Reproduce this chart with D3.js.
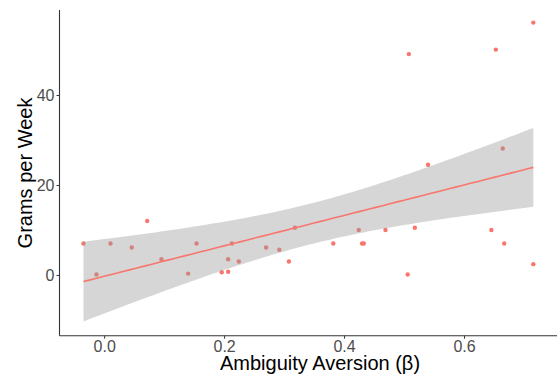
<!DOCTYPE html>
<html>
<head>
<meta charset="utf-8">
<script src="https://cdn.jsdelivr.net/npm/d3@7"></script>
<style>
  html, body { margin: 0; padding: 0; background: #fff; }
  svg { display: block; font-family: "Liberation Sans", Arial, sans-serif; }
</style>
</head>
<body>
<svg id="chart" width="557" height="379"></svg>
<script>
// Ambiguity aversion (beta) per participant
const aversion = [
  -0.0345, -0.0128, 0.0105, 0.046, 0.0717, 0.0955, 0.14, 0.154, 0.196, 0.2067,
  0.2067, 0.213, 0.2245, 0.27, 0.292, 0.308, 0.318, 0.382, 0.4245, 0.43,
  0.4328, 0.469, 0.506, 0.508, 0.518, 0.54, 0.6456, 0.653, 0.6645, 0.667,
  0.7155, 0.7155
];
// Grams consumed per week for the same participants
const grams = [
  7.0, 0.1, 7.0, 6.1, 12.0, 3.5, 0.3, 7.0, 0.6, 0.7,
  3.5, 7.0, 3.0, 6.1, 5.6, 3.0, 10.5, 7.0, 10.0, 7.0,
  7.0, 10.0, 0.1, 49.1, 10.5, 24.5, 10.0, 50.1, 28.1, 7.0,
  2.4, 56.1
];
const xTicks = [0.0, 0.2, 0.4, 0.6];
const yTicks = [0, 20, 40];
const xTitle = "Ambiguity Aversion (\u03b2)";
const yTitle = "Grams per Week";

const pointColor = "#F8766D";
const svg = d3.select("#chart");

const x = d3.scaleLinear().domain([-0.0745, 0.755]).range([59.5, 557]);
const y = d3.scaleLinear().domain([-13.5, 58.9]).range([335.7, 10]);

const data = aversion.map((a, i) => ({ a, g: grams[i] }));

// Ordinary least squares fit with a 95% confidence band
const n = data.length;
const mx = d3.mean(aversion), my = d3.mean(grams);
const sxx = d3.sum(aversion, v => (v - mx) ** 2);
const sxy = d3.sum(data, d => (d.a - mx) * (d.g - my));
const slope = sxy / sxx;
const intercept = my - slope * mx;
const rss = d3.sum(data, d => (d.g - intercept - slope * d.a) ** 2);
const sigma = Math.sqrt(rss / (n - 2));
const tCrit = 2.042; // t(0.975, df ~ 30)

const [xmin, xmax] = d3.extent(aversion);
const fit = d3.range(0, 81).map(i => {
  const xv = xmin + (xmax - xmin) * i / 80;
  const yv = intercept + slope * xv;
  const se = sigma * Math.sqrt(1 / n + (xv - mx) ** 2 / sxx);
  return { x: xv, y: yv, lo: yv - tCrit * se, hi: yv + tCrit * se };
});

// Points
svg.append("g").selectAll("circle").data(data).join("circle")
  .attr("cx", d => x(d.a)).attr("cy", d => y(d.g)).attr("r", 2.2)
  .attr("fill", pointColor);

// Confidence band
svg.append("path").datum(fit)
  .attr("d", d3.area().x(d => x(d.x)).y0(d => y(d.lo)).y1(d => y(d.hi)))
  .attr("fill", "#999999").attr("fill-opacity", 0.4);

// Fitted line
svg.append("path").datum(fit)
  .attr("d", d3.line().x(d => x(d.x)).y(d => y(d.y)))
  .attr("fill", "none").attr("stroke", pointColor).attr("stroke-width", 1.6);

// Axes
const xAxis = svg.append("g").attr("transform", "translate(0,335.7)")
  .call(d3.axisBottom(x).tickValues(xTicks).tickFormat(d3.format(".1f")).tickSize(3).tickPadding(2));
const yAxis = svg.append("g").attr("transform", "translate(59.5,0)")
  .call(d3.axisLeft(y).tickValues(yTicks).tickFormat(d3.format("d")).tickSize(3).tickPadding(2));
[xAxis, yAxis].forEach(g => {
  g.select(".domain").attr("stroke", "#333333").attr("stroke-width", 1.1);
  g.selectAll(".tick line").attr("stroke", "#333333");
  g.selectAll(".tick text").attr("fill", "#4D4D4D").style("font-size", "16px")
    .style("font-family", "'Liberation Sans', Arial, sans-serif");
});
xAxis.select(".domain").attr("d", "M59.5,0H557");
yAxis.select(".domain").attr("d", "M0,10V335.7");

// Axis titles
svg.append("text").attr("x", 320).attr("y", 370).attr("text-anchor", "middle")
  .style("font-size", "20px").attr("fill", "#000").text(xTitle);
svg.append("text").attr("transform", "translate(32,173) rotate(-90)").attr("text-anchor", "middle")
  .style("font-size", "20px").attr("fill", "#000").text(yTitle);
</script>
</body>
</html>
